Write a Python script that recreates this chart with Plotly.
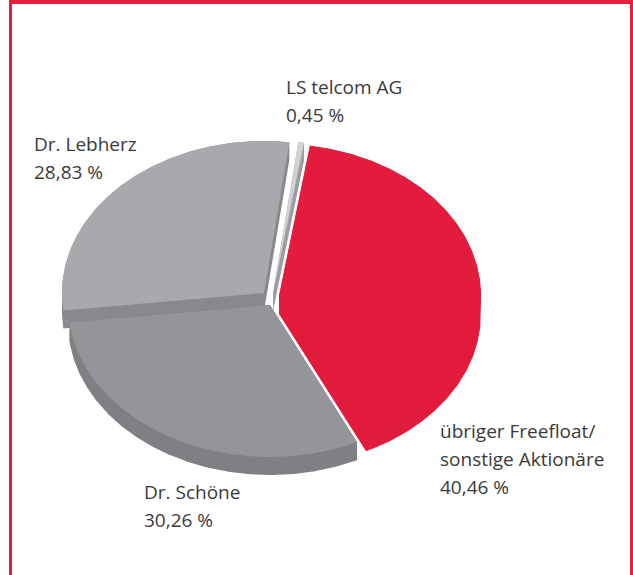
import numpy as np
import plotly.graph_objects as go

# ---------------- data ----------------
name_lines = [["LS telcom AG"],
              ["übriger Freefloat/", "sonstige Aktionäre"],
              ["Dr. Schöne"],
              ["Dr. Lebherz"]]
shares = [0.45, 40.46, 30.26, 28.83]          # percent, clockwise from top
value_labels = [f"{v:.2f}".replace(".", ",") + " %" for v in shares]

# ---------------- style ----------------
top_colors = ["#D0D1D3", "#E31C3D", "#949598", "#A8A9AC"]
side_colors = ["#9C9DA0", "#E01B3C", "#7F8083", "#88898C"]
label_anchor = [(284, 86.5), (438, 431), (142, 492), (32, 143.5)]  # left x, first-line mid y (px)
line_gap = 28
cx, cy = 270.0, 298.0      # pie centre (px)
rx, ry = 202.0, 152.0      # ellipse radii (px)
depth = 18.0               # extrusion (px)
start_deg = 7.2            # first slice starts here (clockwise from top)
explode = [(3, -5), (9, -2), (0, 7), (-6, -5)]   # per-slice offset (px)
frame_red = "#E4203F"
text_color = "#3A3A3A"


def hull(points):
    pts = sorted(set(points))
    if len(pts) < 3:
        return pts

    def cross(o, a, b):
        return (a[0] - o[0]) * (b[1] - o[1]) - (a[1] - o[1]) * (b[0] - o[0])
    lower, upper = [], []
    for p in pts:
        while len(lower) >= 2 and cross(lower[-2], lower[-1], p) <= 0:
            lower.pop()
        lower.append(p)
    for p in reversed(pts):
        while len(upper) >= 2 and cross(upper[-2], upper[-1], p) <= 0:
            upper.pop()
        upper.append(p)
    return lower[:-1] + upper[:-1]


total = sum(shares)
bounds = np.cumsum([0] + shares) / total * 360.0 + start_deg
slices = []
for i, v in enumerate(shares):
    t0, t1 = bounds[i], bounds[i + 1]
    mid = np.radians((t0 + t1) / 2)
    ox = cx + explode[i][0]
    oy = cy + explode[i][1]
    th = np.radians(np.linspace(t0, t1, max(4, int((t1 - t0) * 2))))
    xs = np.concatenate([[ox], ox + rx * np.sin(th)])
    ys = np.concatenate([[oy], oy - ry * np.cos(th)])
    slices.append((np.cos(mid), i, xs, ys))

# painter's order: back (top of screen) first
slices.sort(key=lambda s: -s[0])

fig = go.Figure()
for _, i, xs, ys in slices:
    pts = [(float(x), float(y)) for x, y in zip(xs, ys)]
    pts += [(float(x), float(y) + depth) for x, y in zip(xs, ys)]
    h = hull(pts)
    hx = [p[0] for p in h] + [h[0][0]]
    hy = [p[1] for p in h] + [h[0][1]]
    fig.add_trace(go.Scatter(x=hx, y=hy, mode="lines", fill="toself",
                             fillcolor=side_colors[i], line=dict(width=0, color=side_colors[i]),
                             hoverinfo="skip", showlegend=False))
    fig.add_trace(go.Scatter(x=list(xs) + [xs[0]], y=list(ys) + [ys[0]], mode="lines",
                             fill="toself", fillcolor=top_colors[i],
                             line=dict(width=0, color=top_colors[i]),
                             name=" ".join(name_lines[i]), text=value_labels[i],
                             hoverinfo="name+text", showlegend=False))

annotations = []
for i in range(len(shares)):
    x0, y0 = label_anchor[i]
    lines = name_lines[i] + [value_labels[i]]
    for k, t in enumerate(lines):
        annotations.append(dict(x=x0, y=y0 + k * line_gap, xref="x", yref="y",
                                text=t, showarrow=False, xanchor="left", yanchor="middle",
                                font=dict(family="Open Sans, Arial, sans-serif", size=19,
                                          color=text_color)))

shapes = [
    dict(type="rect", xref="x", yref="y", x0=9, x1=633, y0=0, y1=4,
         fillcolor=frame_red, line=dict(width=0), layer="above"),
    dict(type="rect", xref="x", yref="y", x0=9, x1=12, y0=0, y1=575,
         fillcolor=frame_red, line=dict(width=0), layer="above"),
    dict(type="rect", xref="x", yref="y", x0=630, x1=633, y0=0, y1=575,
         fillcolor=frame_red, line=dict(width=0), layer="above"),
]

fig.update_layout(
    width=633, height=575,
    margin=dict(l=0, r=0, t=0, b=0),
    paper_bgcolor="white", plot_bgcolor="white",
    xaxis=dict(range=[0, 633], visible=False, fixedrange=True),
    yaxis=dict(range=[575, 0], visible=False, fixedrange=True),
    annotations=annotations, shapes=shapes,
)

fig.write_html("out.html",
               config={"displayModeBar": False},
               post_script="document.body.style.margin='0';document.body.style.overflow='hidden';")
